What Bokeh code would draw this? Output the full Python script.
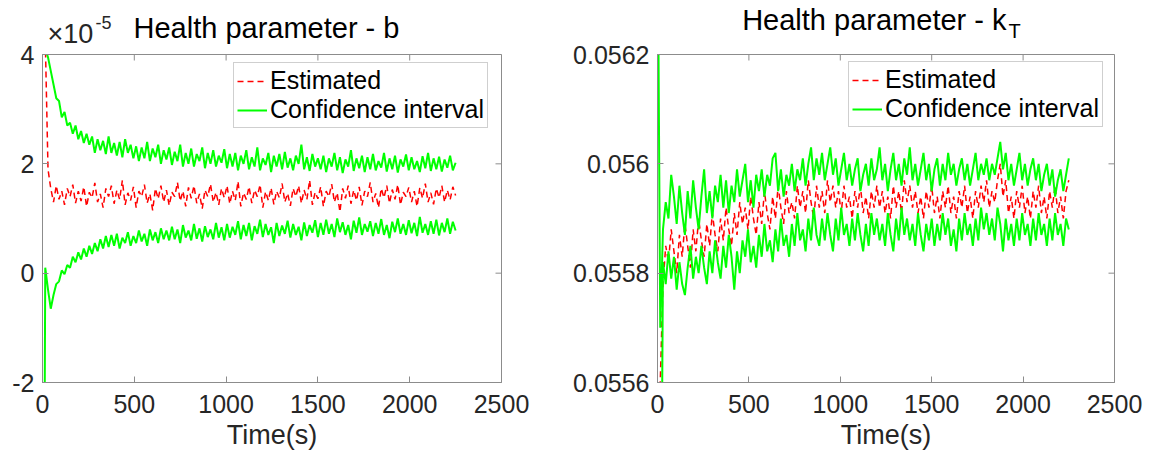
from bokeh.plotting import figure
from bokeh.models import Range1d, FixedTicker, Label, CustomJSTickFormatter
from bokeh.layouts import row, column
from bokeh.embed import file_html
from bokeh.resources import INLINE

FONT = "Liberation Sans"

# sample times (s)
time_s = list(range(0, 2251, 15))

# ---- left panel: health parameter b (units of 1e-5) ----
b_est = [4.6, 4.3, 1.9, 1.55,
    1.3, 1.6, 1.35, 1.5, 1.25, 1.55, 1.4, 1.62, 1.28, 1.5,
    1.32, 1.58, 1.22, 1.48, 1.38, 1.65, 1.3, 1.45, 1.2, 1.55,
    1.4, 1.6, 1.27, 1.52, 1.35, 1.7, 1.25, 1.47, 1.33, 1.58,
    1.2, 1.5, 1.4, 1.62, 1.28, 1.45, 1.15, 1.55, 1.36, 1.6,
    1.3, 1.52, 1.24, 1.48, 1.4, 1.66, 1.32, 1.5, 1.22, 1.57,
    1.37, 1.6, 1.28, 1.45, 1.18, 1.52, 1.4, 1.63, 1.3, 1.48,
    1.25, 1.55, 1.38, 1.6, 1.27, 1.5, 1.33, 1.68, 1.22, 1.47,
    1.35, 1.58, 1.28, 1.52, 1.4, 1.62, 1.2, 1.49, 1.33, 1.56,
    1.26, 1.5, 1.38, 1.64, 1.3, 1.46, 1.23, 1.55, 1.4, 1.6,
    1.28, 1.52, 1.35, 1.7, 1.25, 1.48, 1.36, 1.58, 1.22, 1.5,
    1.4, 1.63, 1.3, 1.47, 1.12, 1.55, 1.37, 1.6, 1.27, 1.52,
    1.33, 1.58, 1.24, 1.5, 1.4, 1.66, 1.3, 1.46, 1.2, 1.55,
    1.38, 1.6, 1.28, 1.53, 1.35, 1.62, 1.25, 1.48, 1.4, 1.57,
    1.3, 1.5, 1.22, 1.56, 1.37, 1.64, 1.3, 1.47, 1.26, 1.55,
    1.38, 1.6, 1.3, 1.52, 1.34, 1.58, 1.42]

b_hi = [12.0, 4.1, 3.95, 3.7, 3.45, 3.2, 3.15, 2.85, 2.95, 2.7, 2.75, 2.55, 2.7, 2.45, 2.6, 2.38, 2.55, 2.35, 2.5, 2.2, 2.45,
    2.25, 2.42, 2.18, 2.5, 2.2, 2.38, 2.15, 2.4, 2.12, 2.45, 2.2, 2.35, 2.1,
    2.32, 2.05, 2.3, 2.1, 2.4, 2.05, 2.28, 2.12, 2.35, 2.0, 2.25,
    2.08, 2.3, 1.98, 2.22, 2.05, 2.35, 1.95, 2.2, 2.0, 2.28, 1.95, 2.18, 2.05, 2.3, 1.92, 2.2, 2.0, 2.25, 1.95, 2.15, 2.02, 2.27,
    1.92, 2.18, 1.95, 2.2, 1.88, 2.15, 2.0, 2.25, 1.9, 2.12, 1.95, 2.3, 1.88, 2.1, 1.98, 2.2, 1.85, 2.15, 1.95, 2.18,
    1.9, 2.22, 1.93, 2.1, 1.88, 2.15, 2.0, 2.35, 1.9, 2.12, 1.87, 2.18, 1.95, 2.1,
    1.9, 2.15, 1.85, 2.1, 1.95, 2.2, 1.88, 2.12, 1.83, 2.08, 1.95, 2.25, 1.87, 2.1, 1.92, 2.15, 1.85, 2.12, 1.9, 2.18,
    1.88, 2.05, 1.93, 2.2, 1.86, 2.1, 1.9, 2.15, 1.84, 2.08, 1.95, 2.17, 1.88, 2.12, 1.9, 2.05, 1.85, 2.14, 1.92, 2.2,
    1.87, 2.1, 1.9, 2.13, 1.86, 2.08, 1.93, 2.15, 1.88, 2.02]

b_lo = [-12.0, 0.1, -0.3, -0.65, -0.4, -0.2, -0.15, 0.05, -0.02, 0.15, 0.1, 0.3, 0.2, 0.38, 0.25, 0.45, 0.3, 0.5, 0.35, 0.55, 0.4,
    0.62, 0.45, 0.68, 0.48, 0.7, 0.5, 0.72, 0.45, 0.65, 0.55, 0.75, 0.5, 0.68,
    0.55, 0.78, 0.58, 0.72, 0.5, 0.8, 0.6, 0.75, 0.55, 0.82, 0.62,
    0.78, 0.6, 0.85, 0.62, 0.8, 0.55, 0.88, 0.65, 0.78, 0.6, 0.9, 0.63, 0.82, 0.58, 0.86, 0.66, 0.8, 0.62, 0.92, 0.65, 0.84, 0.6,
    0.9, 0.65, 0.85, 0.7, 0.95, 0.62, 0.88, 0.68, 0.92, 0.6, 0.86, 0.72, 0.98, 0.66, 0.9, 0.7, 0.84, 0.55, 0.92, 0.68,
    0.87, 0.72, 0.96, 0.65, 0.9, 0.7, 0.85, 0.6, 0.93, 0.68, 0.88, 0.74, 0.97, 0.66,
    0.92, 0.7, 0.98, 0.72, 0.9, 0.66, 1.0, 0.75, 0.93, 0.7, 0.88, 0.62, 0.96, 0.74, 1.02, 0.7, 0.9, 0.76, 0.95, 0.68,
    0.92, 0.72, 0.99, 0.7, 0.88, 0.64, 0.94, 0.75, 1.0, 0.72, 0.9, 0.7, 0.97, 0.73, 0.92, 0.68, 1.03, 0.74, 0.9, 0.7,
    0.95, 0.72, 0.98, 0.69, 0.92, 0.75, 1.0, 0.72, 0.94, 0.78]

# ---- right panel: health parameter k_T ----
k_est = [0.05550, 0.05560, 0.05578, 0.05585, 0.05582, 0.05588, 0.05584, 0.05580, 0.05587, 0.05583, 0.05589,
    0.05585, 0.05581, 0.05588, 0.05584, 0.05590, 0.05586, 0.05583, 0.05589, 0.05585, 0.05591,
    0.05587, 0.05584, 0.05590, 0.05586, 0.05592, 0.05588, 0.05585, 0.05591, 0.05587, 0.05593,
    0.05589, 0.05592, 0.05588, 0.05594, 0.05590, 0.05587, 0.05593, 0.05589, 0.05595, 0.05591,
    0.05588, 0.05594, 0.05590, 0.05596, 0.05592, 0.05589, 0.05595, 0.05591, 0.05593, 0.05590,
    0.05596, 0.05592, 0.05595, 0.05591, 0.05597, 0.05593, 0.05590, 0.05596, 0.05592, 0.05595,
    0.05591, 0.05597, 0.05593, 0.05596, 0.05592, 0.05595, 0.05591, 0.05596, 0.05592, 0.05594,
    0.05590, 0.05595, 0.05592, 0.05596, 0.05591, 0.05594, 0.05590, 0.05595, 0.05592, 0.05596,
    0.05592, 0.05595, 0.05591, 0.05594, 0.05590, 0.05596, 0.05592, 0.05595, 0.05591, 0.05597,
    0.05593, 0.05596, 0.05592, 0.05595, 0.05591, 0.05594, 0.05590, 0.05595, 0.05592, 0.05596,
    0.05591, 0.05594, 0.05590, 0.05595, 0.05592, 0.05596, 0.05591, 0.05594, 0.05590, 0.05595,
    0.05592, 0.05596, 0.05591, 0.05594, 0.05590, 0.05595, 0.05592, 0.05596, 0.05593, 0.05597,
    0.05592, 0.05595, 0.05593, 0.05597, 0.05600, 0.05594, 0.05597, 0.05591, 0.05594, 0.05590,
    0.05595, 0.05592, 0.05596, 0.05591, 0.05594, 0.05590, 0.05595, 0.05592, 0.05596, 0.05591,
    0.05594, 0.05590, 0.05595, 0.05592, 0.05596, 0.05591, 0.05594, 0.05590, 0.05595, 0.05597]

k_hi = [0.05650, 0.05570, 0.05588, 0.05593, 0.05590, 0.05598, 0.05594, 0.05589, 0.05596, 0.05591, 0.05587,
    0.05595, 0.05590, 0.05597, 0.05592, 0.05588, 0.05594, 0.05599, 0.05591, 0.05595, 0.05590,
    0.05596, 0.05593, 0.05598, 0.05592, 0.05597, 0.05591, 0.05596, 0.05593, 0.05599, 0.05594,
    0.05597, 0.05600, 0.05593, 0.05597, 0.05592, 0.05598, 0.05595, 0.05599, 0.05594, 0.05598,
    0.05596, 0.05601, 0.05602, 0.05595, 0.05599, 0.05594, 0.05598, 0.05596, 0.05600, 0.05595,
    0.05599, 0.05597, 0.05601, 0.05596, 0.05600, 0.05603, 0.05597, 0.05601, 0.05598, 0.05602,
    0.05597, 0.05600, 0.05603, 0.05598, 0.05601, 0.05596, 0.05599, 0.05602, 0.05597, 0.05600,
    0.05596, 0.05599, 0.05601, 0.05595, 0.05598, 0.05600, 0.05596, 0.05601, 0.05597, 0.05599,
    0.05603, 0.05597, 0.05600, 0.05595, 0.05599, 0.05602, 0.05597, 0.05600, 0.05596, 0.05601,
    0.05598, 0.05603, 0.05597, 0.05600, 0.05596, 0.05599, 0.05602, 0.05597, 0.05600, 0.05595,
    0.05599, 0.05601, 0.05596, 0.05600, 0.05597, 0.05602, 0.05598, 0.05600, 0.05596, 0.05599,
    0.05601, 0.05597, 0.05600, 0.05596, 0.05599, 0.05602, 0.05597, 0.05600, 0.05598, 0.05601,
    0.05597, 0.05600, 0.05598, 0.05601, 0.05604, 0.05599, 0.05602, 0.05597, 0.05600, 0.05596,
    0.05599, 0.05602, 0.05597, 0.05600, 0.05596, 0.05599, 0.05601, 0.05597, 0.05600, 0.05595,
    0.05598, 0.05600, 0.05596, 0.05599, 0.05594, 0.05597, 0.05599, 0.05595, 0.05598, 0.05601]

k_lo = [0.05500, 0.05500, 0.05582, 0.05578, 0.05584, 0.05579, 0.05583, 0.05577, 0.05582, 0.05578, 0.05576,
    0.05581, 0.05585, 0.05579, 0.05583, 0.05580, 0.05585, 0.05581, 0.05578, 0.05584, 0.05580,
    0.05586, 0.05582, 0.05579, 0.05585, 0.05581, 0.05587, 0.05583, 0.05577, 0.05584, 0.05580,
    0.05586, 0.05583, 0.05588, 0.05582, 0.05585, 0.05581, 0.05587, 0.05583, 0.05589, 0.05584,
    0.05586, 0.05582, 0.05588, 0.05584, 0.05590, 0.05585, 0.05587, 0.05583, 0.05589, 0.05585,
    0.05591, 0.05586, 0.05588, 0.05584, 0.05590, 0.05586, 0.05592, 0.05587, 0.05585, 0.05590,
    0.05586, 0.05591, 0.05587, 0.05584, 0.05590, 0.05586, 0.05592, 0.05587, 0.05589, 0.05585,
    0.05590, 0.05586, 0.05591, 0.05587, 0.05584, 0.05589, 0.05585, 0.05591, 0.05587, 0.05590,
    0.05586, 0.05589, 0.05585, 0.05591, 0.05587, 0.05584, 0.05590, 0.05586, 0.05592, 0.05587,
    0.05590, 0.05586, 0.05589, 0.05585, 0.05591, 0.05587, 0.05584, 0.05589, 0.05586, 0.05590,
    0.05585, 0.05589, 0.05586, 0.05591, 0.05587, 0.05590, 0.05585, 0.05588, 0.05584, 0.05590,
    0.05586, 0.05591, 0.05587, 0.05589, 0.05585, 0.05590, 0.05586, 0.05592, 0.05588, 0.05591,
    0.05587, 0.05590, 0.05586, 0.05592, 0.05589, 0.05584, 0.05590, 0.05586, 0.05589, 0.05585,
    0.05590, 0.05586, 0.05591, 0.05587, 0.05589, 0.05585, 0.05590, 0.05586, 0.05591, 0.05587,
    0.05589, 0.05585, 0.05590, 0.05586, 0.05591, 0.05587, 0.05589, 0.05585, 0.05590, 0.05588]

x_ticks = [0, 500, 1000, 1500, 2000, 2500]
b_ticks = [-2, 0, 2, 4]
k_ticks = [0.0556, 0.0558, 0.056, 0.0562]

RED = "#ff0000"
GREEN = "#00ff00"
AXIS_GRAY = "#8c8c8c"
TICK_TXT = "#262626"
TICK_FS = "25px"
TICK_LEN = 6
STRIP_H = 44
PLOT_H = 462 - STRIP_H
BORDER_TOP = 10
BORDER_BOTTOM = 80
FRAME_H = PLOT_H - BORDER_TOP - BORDER_BOTTOM


def make_plot(width, bl, br, xr, yr, yticks, yfmt):
    p = figure(width=width, height=PLOT_H, output_backend="svg", toolbar_location=None,
               title=None, x_range=Range1d(*xr), y_range=Range1d(*yr),
               min_border_left=bl, min_border_right=br,
               min_border_top=BORDER_TOP, min_border_bottom=BORDER_BOTTOM)
    p.background_fill_color = "white"
    p.border_fill_color = "white"
    p.outline_line_color = AXIS_GRAY
    p.outline_line_width = 1
    p.xgrid.visible = False
    p.ygrid.visible = False
    bottom = p.xaxis[0]
    left = p.yaxis[0]
    bottom.ticker = FixedTicker(ticks=x_ticks)
    left.ticker = FixedTicker(ticks=yticks)
    left.formatter = CustomJSTickFormatter(code=yfmt)
    bottom.formatter = CustomJSTickFormatter(code="return tick.toFixed(0);")
    for ax in [bottom, left]:
        ax.axis_line_color = AXIS_GRAY
        ax.major_tick_line_color = AXIS_GRAY
        ax.major_tick_in = TICK_LEN
        ax.major_tick_out = 0
        ax.minor_tick_line_color = None
        ax.major_label_text_font = FONT
        ax.major_label_text_font_size = TICK_FS
        ax.major_label_text_color = TICK_TXT
    bottom.major_label_standoff = 12
    left.major_label_standoff = 8
    bottom.axis_label = "Time(s)"
    bottom.axis_label_text_font = FONT
    bottom.axis_label_text_font_size = "27px"
    bottom.axis_label_text_font_style = "normal"
    bottom.axis_label_text_color = TICK_TXT
    bottom.axis_label_standoff = 4
    # box ticks on the top and right edges (inward), from the tick lists
    fw = width - bl - br
    dy = (yr[1] - yr[0]) * TICK_LEN / FRAME_H
    dx = (xr[1] - xr[0]) * TICK_LEN / fw
    p.segment(x0=x_ticks, y0=[yr[1]] * len(x_ticks), x1=x_ticks, y1=[yr[1] - dy] * len(x_ticks),
              line_color=AXIS_GRAY, line_width=1)
    p.segment(x0=[xr[1]] * len(yticks), y0=yticks, x1=[xr[1] - dx] * len(yticks), y1=yticks,
              line_color=AXIS_GRAY, line_width=1)
    return p


def legend_style(p, loc):
    lg = p.legend[0]
    lg.location = loc
    lg.margin = 0
    lg.label_text_font = FONT
    lg.label_text_font_size = "25px"
    lg.label_text_color = "black"
    lg.border_line_color = "#a0a0a0"
    lg.border_line_width = 1
    lg.background_fill_color = "white"
    lg.background_fill_alpha = 1
    lg.padding = 3
    lg.spacing = 0
    lg.label_standoff = 3
    lg.glyph_width = 30
    lg.label_height = 28
    lg.glyph_height = 28


def make_strip(width):
    s = figure(width=width, height=STRIP_H, output_backend="svg", toolbar_location=None,
               title=None, x_range=Range1d(0, width), y_range=Range1d(STRIP_H, 0),
               x_axis_type=None, y_axis_type=None, min_border=0)
    s.outline_line_color = None
    s.background_fill_color = "white"
    s.border_fill_color = "white"
    return s


def txt(s, x, y, text, size, align="left", color="black"):
    s.add_layout(Label(x=x, y=y, text=text, text_align=align, text_baseline="middle",
                       text_font=FONT, text_font_size=size, text_color=color))


# ---------------- left ----------------
p1 = make_plot(570, 42, 69, (0, 2500), (-2, 4), b_ticks, "return tick.toFixed(0);")
p1.line(time_s, b_est, line_color=RED, line_width=1.5, line_dash="6 4", legend_label="Estimated")
p1.line(time_s, b_hi, line_color=GREEN, line_width=2, legend_label="Confidence interval")
p1.line(time_s, b_lo, line_color=GREEN, line_width=2)
legend_style(p1, (191, 254))

s1 = make_strip(570)
txt(s1, 133, 27.6, "Health parameter - b", "29px")
txt(s1, 47, 33.5, "\u00d710", "27px", color=TICK_TXT)
txt(s1, 95, 22, "-5", "18px", color=TICK_TXT)

# ---------------- right ----------------
p2 = make_plot(582, 86, 38, (0, 2500), (0.0556, 0.0562), k_ticks,
               "return tick.toFixed(4).replace(/0+$/, '');")
p2.line(time_s, k_est, line_color=RED, line_width=1.5, line_dash="6 4", legend_label="Estimated")
p2.line(time_s, k_hi, line_color=GREEN, line_width=2, legend_label="Confidence interval")
p2.line(time_s, k_lo, line_color=GREEN, line_width=2)
legend_style(p2, (191, 255))

s2 = make_strip(582)
txt(s2, 436, 19.6, "Health parameter - k", "29px", align="right")
txt(s2, 438, 30.8, "T", "20px")

layout = column(row(s1, s2), row(p1, p2))
open("out.html", "w").write(file_html(layout, INLINE))
